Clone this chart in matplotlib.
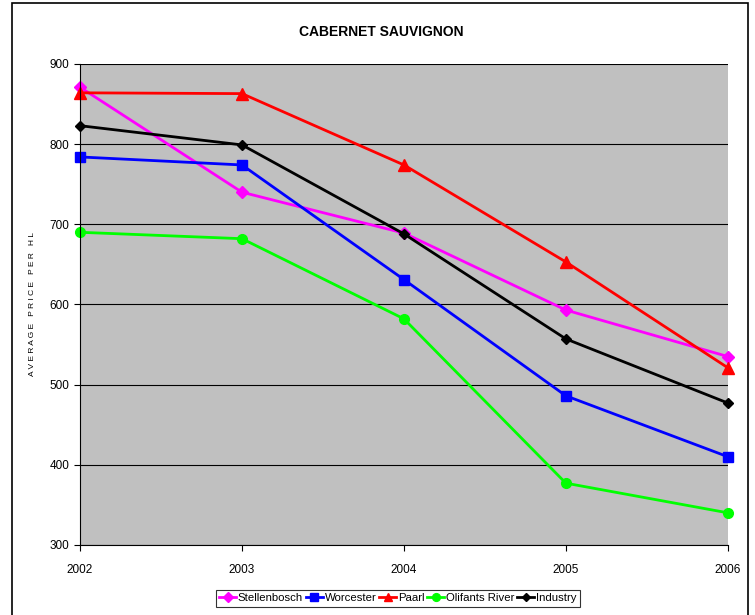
import matplotlib
matplotlib.use('Agg')
import matplotlib.pyplot as plt
from matplotlib.patches import Rectangle

plt.rcParams['font.family'] = ['Liberation Sans', 'DejaVu Sans']

years = [2002, 2003, 2004, 2005, 2006]
stellenbosch = [871, 740, 689, 593, 535]
worcester = [784, 774, 631, 486, 410]
paarl = [864, 863, 774, 653, 521]
olifants = [690, 682, 582, 377, 340]
industry = [823, 799, 688, 557, 477]

fig = plt.figure(figsize=(7.55, 6.15), dpi=100)
ax = fig.add_axes([0.106, 0.114, 0.858, 0.782])

# outer chart frame
fig.patches.append(Rectangle((12 / 755, -0.01), 736 / 755, 1 - 3 / 615 + 0.01,
                             transform=fig.transFigure, fill=False,
                             edgecolor='black', linewidth=1.2))

ax.set_facecolor('#c0c0c0')
ax.plot(years, stellenbosch, color='#ff00ff', marker='D', markersize=6, lw=2, label='Stellenbosch')
ax.plot(years, worcester, color='#0000ff', marker='s', markersize=7, lw=2, label='Worcester')
ax.plot(years, paarl, color='#ff0000', marker='^', markersize=8, lw=2, label='Paarl')
ax.plot(years, olifants, color='#00ff00', marker='o', markersize=7, lw=2, label='Olifants River')
ax.plot(years, industry, color='black', marker='D', markersize=5, lw=2, label='Industry')

ax.set_xlim(2002, 2006)
ax.set_ylim(300, 900)
ax.set_xticks(years)
ax.set_yticks(range(300, 901, 100))
ax.yaxis.grid(True, color='black', linewidth=0.8)
ax.set_axisbelow(True)
for s in ['top', 'right']:
    ax.spines[s].set_visible(False)
ax.tick_params(labelsize=8.5, length=4, direction='out')
ax.tick_params(axis='x', pad=10)
for line in ax.lines:
    line.set_clip_on(False)

ax.set_ylabel('A V E R A G E   P R I C E   P E R   H L', fontsize=6, labelpad=10)
fig.text(0.505, 0.948, 'CABERNET SAUVIGNON', ha='center', va='center',
         fontsize=10, fontweight='bold')

leg = fig.legend(loc='center', bbox_to_anchor=(0.527, 0.027), ncol=5, fontsize=8.2,
                 frameon=True, fancybox=False, edgecolor='black',
                 handlelength=1.5, handletextpad=0.15, columnspacing=0.25,
                 borderpad=0.3, borderaxespad=0, markerscale=0.8)
leg.get_frame().set_linewidth(0.8)

fig.savefig('out.png', dpi=100)
